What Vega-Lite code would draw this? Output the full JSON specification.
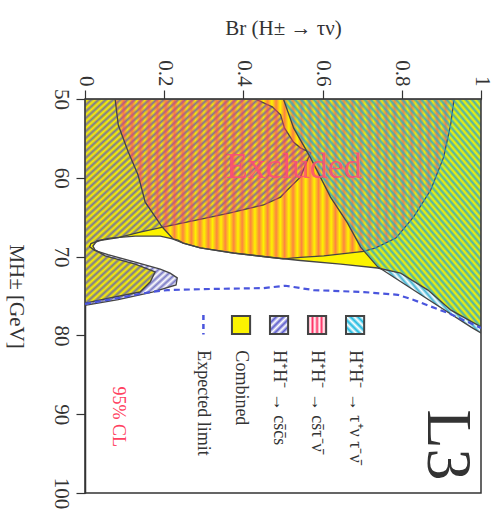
{
  "$schema": "https://vega.github.io/schema/vega-lite/v6.json",
  "width": 396,
  "height": 394,
  "autosize": "none",
  "padding": {"left": 85, "top": 99, "right": 14, "bottom": 18},
  "background": "#ffffff",
  "config": {"view": {"stroke": "#333333", "strokeWidth": 1.5}, "font": "Liberation Serif"},
  "datasets": {
    "combined": [{"br":0,"mass":50},{"br":0,"mass":75.9},{"br":0.063,"mass":75.25},{"br":0.139,"mass":74.5},{"br":0.165,"mass":73.2},{"br":0.177,"mass":71.95},{"br":0.127,"mass":70.95},{"br":0.051,"mass":69.9},{"br":0.025,"mass":69.15},{"br":0.02,"mass":68.65},{"br":0.03,"mass":68.0},{"br":0.063,"mass":67.65},{"br":0.127,"mass":67.4},{"br":0.19,"mass":67.4},{"br":0.235,"mass":67.9},{"br":0.248,"mass":68.3},{"br":0.291,"mass":68.9},{"br":0.375,"mass":69.55},{"br":0.461,"mass":70.05},{"br":0.544,"mass":70.5},{"br":0.646,"mass":70.95},{"br":0.739,"mass":71.45},{"br":0.797,"mass":72.1},{"br":0.866,"mass":74.25},{"br":0.924,"mass":76.8},{"br":0.992,"mass":78.7},{"br":1,"mass":78.95},{"br":1,"mass":50}],
    "cscs": [{"br":0,"mass":50},{"br":0.43,"mass":50},{"br":0.473,"mass":51.0},{"br":0.494,"mass":52.0},{"br":0.504,"mass":53.7},{"br":0.527,"mass":55.5},{"br":0.544,"mass":56.2},{"br":0.57,"mass":56.85},{"br":0.562,"mass":57.75},{"br":0.544,"mass":59.9},{"br":0.511,"mass":61.55},{"br":0.494,"mass":62.45},{"br":0.451,"mass":63.45},{"br":0.367,"mass":64.45},{"br":0.284,"mass":65.35},{"br":0.197,"mass":66.25},{"br":0.139,"mass":66.9},{"br":0.084,"mass":67.6},{"br":0.04,"mass":67.95},{"br":0.015,"mass":68.35},{"br":0.012,"mass":68.75},{"br":0.024,"mass":69.2},{"br":0.058,"mass":69.75},{"br":0.127,"mass":70.7},{"br":0.19,"mass":71.6},{"br":0.215,"mass":72.1},{"br":0.233,"mass":72.7},{"br":0.23,"mass":73.6},{"br":0.17,"mass":74.5},{"br":0.084,"mass":75.45},{"br":0,"mass":76.2}],
    "cstn": [{"br":0.076,"mass":50},{"br":0.932,"mass":50},{"br":0.924,"mass":53.05},{"br":0.906,"mass":57.35},{"br":0.873,"mass":61.55},{"br":0.83,"mass":64.95},{"br":0.785,"mass":67.65},{"br":0.734,"mass":68.9},{"br":0.704,"mass":69.35},{"br":0.603,"mass":69.9},{"br":0.544,"mass":70.1},{"br":0.5,"mass":70.3},{"br":0.461,"mass":70.05},{"br":0.375,"mass":69.55},{"br":0.291,"mass":68.9},{"br":0.248,"mass":68.3},{"br":0.223,"mass":67.8},{"br":0.195,"mass":66.25},{"br":0.152,"mass":63.1},{"br":0.134,"mass":59.65},{"br":0.109,"mass":56.7},{"br":0.084,"mass":53.3}],
    "tntn": [{"br":0.501,"mass":50},{"br":0.527,"mass":53.7},{"br":0.57,"mass":57.5},{"br":0.62,"mass":62.45},{"br":0.663,"mass":65.75},{"br":0.696,"mass":68.8},{"br":0.739,"mass":71.3},{"br":0.747,"mass":71.55},{"br":0.856,"mass":75.1},{"br":0.975,"mass":78.95},{"br":1,"mass":79.7},{"br":1,"mass":50}],
    "expected": [{"br":0,"mass":76.0},{"br":0.084,"mass":75.25},{"br":0.165,"mass":74.5},{"br":0.208,"mass":74.25},{"br":0.324,"mass":74.1},{"br":0.451,"mass":74.0},{"br":0.506,"mass":73.7},{"br":0.577,"mass":74.25},{"br":0.704,"mass":74.5},{"br":0.79,"mass":74.85},{"br":0.83,"mass":75.5},{"br":0.916,"mass":77.15},{"br":1,"mass":79.05}],
    "legend": [{"entry":"expected","br":0.299,"label":"Expected limit"},{"entry":"combined","br":0.394,"label":"Combined"},{"entry":"cscs","br":0.49,"label":"H⁺H⁻ → cs̄c̄s"},{"entry":"cstn","br":0.586,"label":"H⁺H⁻ → cs̄τ⁻ν̄"},{"entry":"tntn","br":0.682,"label":"H⁺H⁻ → τ⁺ν τ⁻ν̄"}]
  },
  "layer": [
    {
      "data": {"name": "combined"},
      "mark": {"type": "line", "interpolate": "linear-closed", "fill": "#fcf300", "stroke": null, "clip": true},
      "encoding": {
        "x": {"field": "br", "type": "quantitative", "scale": {"domain": [0, 1], "nice": false, "zero": false},
          "axis": {"orient": "top", "title": "Br (H± → τν)", "values": [0,0.1,0.2,0.3,0.4,0.5,0.6,0.7,0.8,0.9,1],
            "labelExpr": "datum.value == 0 ? '0' : datum.value == 1 ? '1' : (round(datum.value * 10) % 2 == 0 ? format(datum.value, '.1f') : '')",
            "labelAngle": 90, "labelFontSize": 21, "labelFont": "Liberation Serif", "labelColor": "#333333",
            "tickSize": 9, "tickColor": "#333333", "tickWidth": 1.2, "domainColor": "#333333", "domainWidth": 1.5, "labelPadding": 4,
            "titleFont": "Liberation Serif", "titleFontSize": 21, "titleFontWeight": "normal", "titleColor": "#333333", "titlePadding": 21,
            "grid": false, "labelFlush": false, "labelOverlap": false}},
        "y": {"field": "mass", "type": "quantitative", "scale": {"domain": [50, 100], "reverse": true, "nice": false, "zero": false},
          "axis": {"orient": "left", "title": "MH±  [GeV]", "values": [50,55,60,65,70,75,80,85,90,95,100],
            "labelExpr": "datum.value % 10 == 0 ? datum.label : ''",
            "labelAngle": 90, "labelFontSize": 21, "labelFont": "Liberation Serif", "labelColor": "#333333",
            "tickSize": 9, "tickColor": "#333333", "tickWidth": 1.2, "domainColor": "#333333", "domainWidth": 1.5, "labelPadding": 5,
            "titleFont": "Liberation Serif", "titleFontSize": 21, "titleFontWeight": "normal", "titleColor": "#333333",
            "titleAngle": 90, "titleBaseline": "top", "titlePadding": 24,
            "grid": false, "labelFlush": false, "labelOverlap": false}},
        "order": {"value": null}
      }
    },
    {
      "data": {"name": "cscs"},
      "mark": {"type": "line", "interpolate": "linear-closed", "stroke": "#444444", "strokeWidth": 1.3, "clip": true,
        "fill": {"gradient": "linear", "x1": 0, "y1": 0, "x2": 1, "y2": 1, "stops": [
{"offset":0,"color":"#5a5ab8d0"},{"offset":0.008,"color":"#5a5ab800"},{"offset":0.016,"color":"#5a5ab8d0"},{"offset":0.024,"color":"#5a5ab800"},{"offset":0.032,"color":"#5a5ab8d0"},{"offset":0.04,"color":"#5a5ab800"},{"offset":0.048,"color":"#5a5ab8d0"},{"offset":0.056,"color":"#5a5ab800"},{"offset":0.064,"color":"#5a5ab8d0"},{"offset":0.072,"color":"#5a5ab800"},
{"offset":0.08,"color":"#5a5ab8d0"},{"offset":0.088,"color":"#5a5ab800"},{"offset":0.096,"color":"#5a5ab8d0"},{"offset":0.104,"color":"#5a5ab800"},{"offset":0.112,"color":"#5a5ab8d0"},{"offset":0.12,"color":"#5a5ab800"},{"offset":0.128,"color":"#5a5ab8d0"},{"offset":0.136,"color":"#5a5ab800"},{"offset":0.144,"color":"#5a5ab8d0"},{"offset":0.152,"color":"#5a5ab800"},
{"offset":0.16,"color":"#5a5ab8d0"},{"offset":0.168,"color":"#5a5ab800"},{"offset":0.176,"color":"#5a5ab8d0"},{"offset":0.184,"color":"#5a5ab800"},{"offset":0.192,"color":"#5a5ab8d0"},{"offset":0.2,"color":"#5a5ab800"},{"offset":0.208,"color":"#5a5ab8d0"},{"offset":0.216,"color":"#5a5ab800"},{"offset":0.224,"color":"#5a5ab8d0"},{"offset":0.232,"color":"#5a5ab800"},
{"offset":0.24,"color":"#5a5ab8d0"},{"offset":0.248,"color":"#5a5ab800"},{"offset":0.256,"color":"#5a5ab8d0"},{"offset":0.264,"color":"#5a5ab800"},{"offset":0.272,"color":"#5a5ab8d0"},{"offset":0.28,"color":"#5a5ab800"},{"offset":0.288,"color":"#5a5ab8d0"},{"offset":0.296,"color":"#5a5ab800"},{"offset":0.304,"color":"#5a5ab8d0"},{"offset":0.312,"color":"#5a5ab800"},
{"offset":0.32,"color":"#5a5ab8d0"},{"offset":0.328,"color":"#5a5ab800"},{"offset":0.336,"color":"#5a5ab8d0"},{"offset":0.344,"color":"#5a5ab800"},{"offset":0.352,"color":"#5a5ab8d0"},{"offset":0.36,"color":"#5a5ab800"},{"offset":0.368,"color":"#5a5ab8d0"},{"offset":0.376,"color":"#5a5ab800"},{"offset":0.384,"color":"#5a5ab8d0"},{"offset":0.392,"color":"#5a5ab800"},
{"offset":0.4,"color":"#5a5ab8d0"},{"offset":0.408,"color":"#5a5ab800"},{"offset":0.416,"color":"#5a5ab8d0"},{"offset":0.424,"color":"#5a5ab800"},{"offset":0.432,"color":"#5a5ab8d0"},{"offset":0.44,"color":"#5a5ab800"},{"offset":0.448,"color":"#5a5ab8d0"},{"offset":0.456,"color":"#5a5ab800"},{"offset":0.464,"color":"#5a5ab8d0"},{"offset":0.472,"color":"#5a5ab800"},
{"offset":0.48,"color":"#5a5ab8d0"},{"offset":0.488,"color":"#5a5ab800"},{"offset":0.496,"color":"#5a5ab8d0"},{"offset":0.504,"color":"#5a5ab800"},{"offset":0.512,"color":"#5a5ab8d0"},{"offset":0.52,"color":"#5a5ab800"},{"offset":0.528,"color":"#5a5ab8d0"},{"offset":0.536,"color":"#5a5ab800"},{"offset":0.544,"color":"#5a5ab8d0"},{"offset":0.552,"color":"#5a5ab800"},
{"offset":0.56,"color":"#5a5ab8d0"},{"offset":0.568,"color":"#5a5ab800"},{"offset":0.576,"color":"#5a5ab8d0"},{"offset":0.584,"color":"#5a5ab800"},{"offset":0.592,"color":"#5a5ab8d0"},{"offset":0.6,"color":"#5a5ab800"},{"offset":0.608,"color":"#5a5ab8d0"},{"offset":0.616,"color":"#5a5ab800"},{"offset":0.624,"color":"#5a5ab8d0"},{"offset":0.632,"color":"#5a5ab800"},
{"offset":0.64,"color":"#5a5ab8d0"},{"offset":0.648,"color":"#5a5ab800"},{"offset":0.656,"color":"#5a5ab8d0"},{"offset":0.664,"color":"#5a5ab800"},{"offset":0.672,"color":"#5a5ab8d0"},{"offset":0.68,"color":"#5a5ab800"},{"offset":0.688,"color":"#5a5ab8d0"},{"offset":0.696,"color":"#5a5ab800"},{"offset":0.704,"color":"#5a5ab8d0"},{"offset":0.712,"color":"#5a5ab800"},
{"offset":0.72,"color":"#5a5ab8d0"},{"offset":0.728,"color":"#5a5ab800"},{"offset":0.736,"color":"#5a5ab8d0"},{"offset":0.744,"color":"#5a5ab800"},{"offset":0.752,"color":"#5a5ab8d0"},{"offset":0.76,"color":"#5a5ab800"},{"offset":0.768,"color":"#5a5ab8d0"},{"offset":0.776,"color":"#5a5ab800"},{"offset":0.784,"color":"#5a5ab8d0"},{"offset":0.792,"color":"#5a5ab800"},
{"offset":0.8,"color":"#5a5ab8d0"},{"offset":0.808,"color":"#5a5ab800"},{"offset":0.816,"color":"#5a5ab8d0"},{"offset":0.824,"color":"#5a5ab800"},{"offset":0.832,"color":"#5a5ab8d0"},{"offset":0.84,"color":"#5a5ab800"},{"offset":0.848,"color":"#5a5ab8d0"},{"offset":0.856,"color":"#5a5ab800"},{"offset":0.864,"color":"#5a5ab8d0"},{"offset":0.872,"color":"#5a5ab800"},
{"offset":0.88,"color":"#5a5ab8d0"},{"offset":0.888,"color":"#5a5ab800"},{"offset":0.896,"color":"#5a5ab8d0"},{"offset":0.904,"color":"#5a5ab800"},{"offset":0.912,"color":"#5a5ab8d0"},{"offset":0.92,"color":"#5a5ab800"},{"offset":0.928,"color":"#5a5ab8d0"},{"offset":0.936,"color":"#5a5ab800"},{"offset":0.944,"color":"#5a5ab8d0"},{"offset":0.952,"color":"#5a5ab800"},
{"offset":0.96,"color":"#5a5ab8d0"},{"offset":0.968,"color":"#5a5ab800"},{"offset":0.976,"color":"#5a5ab8d0"},{"offset":0.984,"color":"#5a5ab800"},{"offset":0.992,"color":"#5a5ab8d0"},{"offset":1,"color":"#5a5ab800"}
        ]}},
      "encoding": {"x": {"field": "br", "type": "quantitative"}, "y": {"field": "mass", "type": "quantitative"}, "order": {"value": null}}
    },
    {
      "data": {"name": "cstn"},
      "mark": {"type": "line", "interpolate": "linear-closed", "stroke": "#444444", "strokeWidth": 1.3, "clip": true,
        "fill": {"gradient": "linear", "x1": 0, "y1": 0, "x2": 1, "y2": 0, "stops": [
{"offset":0,"color":"#ff3a6a9a"},{"offset":0.0125,"color":"#ff3a6a00"},{"offset":0.025,"color":"#ff3a6a9a"},{"offset":0.0375,"color":"#ff3a6a00"},{"offset":0.05,"color":"#ff3a6a9a"},{"offset":0.0625,"color":"#ff3a6a00"},{"offset":0.075,"color":"#ff3a6a9a"},{"offset":0.0875,"color":"#ff3a6a00"},
{"offset":0.1,"color":"#ff3a6a9a"},{"offset":0.1125,"color":"#ff3a6a00"},{"offset":0.125,"color":"#ff3a6a9a"},{"offset":0.1375,"color":"#ff3a6a00"},{"offset":0.15,"color":"#ff3a6a9a"},{"offset":0.1625,"color":"#ff3a6a00"},{"offset":0.175,"color":"#ff3a6a9a"},{"offset":0.1875,"color":"#ff3a6a00"},
{"offset":0.2,"color":"#ff3a6a9a"},{"offset":0.2125,"color":"#ff3a6a00"},{"offset":0.225,"color":"#ff3a6a9a"},{"offset":0.2375,"color":"#ff3a6a00"},{"offset":0.25,"color":"#ff3a6a9a"},{"offset":0.2625,"color":"#ff3a6a00"},{"offset":0.275,"color":"#ff3a6a9a"},{"offset":0.2875,"color":"#ff3a6a00"},
{"offset":0.3,"color":"#ff3a6a9a"},{"offset":0.3125,"color":"#ff3a6a00"},{"offset":0.325,"color":"#ff3a6a9a"},{"offset":0.3375,"color":"#ff3a6a00"},{"offset":0.35,"color":"#ff3a6a9a"},{"offset":0.3625,"color":"#ff3a6a00"},{"offset":0.375,"color":"#ff3a6a9a"},{"offset":0.3875,"color":"#ff3a6a00"},
{"offset":0.4,"color":"#ff3a6a9a"},{"offset":0.4125,"color":"#ff3a6a00"},{"offset":0.425,"color":"#ff3a6a9a"},{"offset":0.4375,"color":"#ff3a6a00"},{"offset":0.45,"color":"#ff3a6a9a"},{"offset":0.4625,"color":"#ff3a6a00"},{"offset":0.475,"color":"#ff3a6a9a"},{"offset":0.4875,"color":"#ff3a6a00"},
{"offset":0.5,"color":"#ff3a6a9a"},{"offset":0.5125,"color":"#ff3a6a00"},{"offset":0.525,"color":"#ff3a6a9a"},{"offset":0.5375,"color":"#ff3a6a00"},{"offset":0.55,"color":"#ff3a6a9a"},{"offset":0.5625,"color":"#ff3a6a00"},{"offset":0.575,"color":"#ff3a6a9a"},{"offset":0.5875,"color":"#ff3a6a00"},
{"offset":0.6,"color":"#ff3a6a9a"},{"offset":0.6125,"color":"#ff3a6a00"},{"offset":0.625,"color":"#ff3a6a9a"},{"offset":0.6375,"color":"#ff3a6a00"},{"offset":0.65,"color":"#ff3a6a9a"},{"offset":0.6625,"color":"#ff3a6a00"},{"offset":0.675,"color":"#ff3a6a9a"},{"offset":0.6875,"color":"#ff3a6a00"},
{"offset":0.7,"color":"#ff3a6a9a"},{"offset":0.7125,"color":"#ff3a6a00"},{"offset":0.725,"color":"#ff3a6a9a"},{"offset":0.7375,"color":"#ff3a6a00"},{"offset":0.75,"color":"#ff3a6a9a"},{"offset":0.7625,"color":"#ff3a6a00"},{"offset":0.775,"color":"#ff3a6a9a"},{"offset":0.7875,"color":"#ff3a6a00"},
{"offset":0.8,"color":"#ff3a6a9a"},{"offset":0.8125,"color":"#ff3a6a00"},{"offset":0.825,"color":"#ff3a6a9a"},{"offset":0.8375,"color":"#ff3a6a00"},{"offset":0.85,"color":"#ff3a6a9a"},{"offset":0.8625,"color":"#ff3a6a00"},{"offset":0.875,"color":"#ff3a6a9a"},{"offset":0.8875,"color":"#ff3a6a00"},
{"offset":0.9,"color":"#ff3a6a9a"},{"offset":0.9125,"color":"#ff3a6a00"},{"offset":0.925,"color":"#ff3a6a9a"},{"offset":0.9375,"color":"#ff3a6a00"},{"offset":0.95,"color":"#ff3a6a9a"},{"offset":0.9625,"color":"#ff3a6a00"},{"offset":0.975,"color":"#ff3a6a9a"},{"offset":0.9875,"color":"#ff3a6a00"},{"offset":1,"color":"#ff3a6a9a"}
        ]}},
      "encoding": {"x": {"field": "br", "type": "quantitative"}, "y": {"field": "mass", "type": "quantitative"}, "order": {"value": null}}
    },
    {
      "data": {"name": "tntn"},
      "mark": {"type": "line", "interpolate": "linear-closed", "stroke": "#444444", "strokeWidth": 1.3, "clip": true,
        "fill": {"gradient": "linear", "x1": 0, "y1": 1, "x2": 1, "y2": 0, "stops": [
{"offset":0,"color":"#28a8cce0"},{"offset":0.008,"color":"#28a8cc00"},{"offset":0.016,"color":"#28a8cce0"},{"offset":0.024,"color":"#28a8cc00"},{"offset":0.032,"color":"#28a8cce0"},{"offset":0.04,"color":"#28a8cc00"},{"offset":0.048,"color":"#28a8cce0"},{"offset":0.056,"color":"#28a8cc00"},{"offset":0.064,"color":"#28a8cce0"},{"offset":0.072,"color":"#28a8cc00"},
{"offset":0.08,"color":"#28a8cce0"},{"offset":0.088,"color":"#28a8cc00"},{"offset":0.096,"color":"#28a8cce0"},{"offset":0.104,"color":"#28a8cc00"},{"offset":0.112,"color":"#28a8cce0"},{"offset":0.12,"color":"#28a8cc00"},{"offset":0.128,"color":"#28a8cce0"},{"offset":0.136,"color":"#28a8cc00"},{"offset":0.144,"color":"#28a8cce0"},{"offset":0.152,"color":"#28a8cc00"},
{"offset":0.16,"color":"#28a8cce0"},{"offset":0.168,"color":"#28a8cc00"},{"offset":0.176,"color":"#28a8cce0"},{"offset":0.184,"color":"#28a8cc00"},{"offset":0.192,"color":"#28a8cce0"},{"offset":0.2,"color":"#28a8cc00"},{"offset":0.208,"color":"#28a8cce0"},{"offset":0.216,"color":"#28a8cc00"},{"offset":0.224,"color":"#28a8cce0"},{"offset":0.232,"color":"#28a8cc00"},
{"offset":0.24,"color":"#28a8cce0"},{"offset":0.248,"color":"#28a8cc00"},{"offset":0.256,"color":"#28a8cce0"},{"offset":0.264,"color":"#28a8cc00"},{"offset":0.272,"color":"#28a8cce0"},{"offset":0.28,"color":"#28a8cc00"},{"offset":0.288,"color":"#28a8cce0"},{"offset":0.296,"color":"#28a8cc00"},{"offset":0.304,"color":"#28a8cce0"},{"offset":0.312,"color":"#28a8cc00"},
{"offset":0.32,"color":"#28a8cce0"},{"offset":0.328,"color":"#28a8cc00"},{"offset":0.336,"color":"#28a8cce0"},{"offset":0.344,"color":"#28a8cc00"},{"offset":0.352,"color":"#28a8cce0"},{"offset":0.36,"color":"#28a8cc00"},{"offset":0.368,"color":"#28a8cce0"},{"offset":0.376,"color":"#28a8cc00"},{"offset":0.384,"color":"#28a8cce0"},{"offset":0.392,"color":"#28a8cc00"},
{"offset":0.4,"color":"#28a8cce0"},{"offset":0.408,"color":"#28a8cc00"},{"offset":0.416,"color":"#28a8cce0"},{"offset":0.424,"color":"#28a8cc00"},{"offset":0.432,"color":"#28a8cce0"},{"offset":0.44,"color":"#28a8cc00"},{"offset":0.448,"color":"#28a8cce0"},{"offset":0.456,"color":"#28a8cc00"},{"offset":0.464,"color":"#28a8cce0"},{"offset":0.472,"color":"#28a8cc00"},
{"offset":0.48,"color":"#28a8cce0"},{"offset":0.488,"color":"#28a8cc00"},{"offset":0.496,"color":"#28a8cce0"},{"offset":0.504,"color":"#28a8cc00"},{"offset":0.512,"color":"#28a8cce0"},{"offset":0.52,"color":"#28a8cc00"},{"offset":0.528,"color":"#28a8cce0"},{"offset":0.536,"color":"#28a8cc00"},{"offset":0.544,"color":"#28a8cce0"},{"offset":0.552,"color":"#28a8cc00"},
{"offset":0.56,"color":"#28a8cce0"},{"offset":0.568,"color":"#28a8cc00"},{"offset":0.576,"color":"#28a8cce0"},{"offset":0.584,"color":"#28a8cc00"},{"offset":0.592,"color":"#28a8cce0"},{"offset":0.6,"color":"#28a8cc00"},{"offset":0.608,"color":"#28a8cce0"},{"offset":0.616,"color":"#28a8cc00"},{"offset":0.624,"color":"#28a8cce0"},{"offset":0.632,"color":"#28a8cc00"},
{"offset":0.64,"color":"#28a8cce0"},{"offset":0.648,"color":"#28a8cc00"},{"offset":0.656,"color":"#28a8cce0"},{"offset":0.664,"color":"#28a8cc00"},{"offset":0.672,"color":"#28a8cce0"},{"offset":0.68,"color":"#28a8cc00"},{"offset":0.688,"color":"#28a8cce0"},{"offset":0.696,"color":"#28a8cc00"},{"offset":0.704,"color":"#28a8cce0"},{"offset":0.712,"color":"#28a8cc00"},
{"offset":0.72,"color":"#28a8cce0"},{"offset":0.728,"color":"#28a8cc00"},{"offset":0.736,"color":"#28a8cce0"},{"offset":0.744,"color":"#28a8cc00"},{"offset":0.752,"color":"#28a8cce0"},{"offset":0.76,"color":"#28a8cc00"},{"offset":0.768,"color":"#28a8cce0"},{"offset":0.776,"color":"#28a8cc00"},{"offset":0.784,"color":"#28a8cce0"},{"offset":0.792,"color":"#28a8cc00"},
{"offset":0.8,"color":"#28a8cce0"},{"offset":0.808,"color":"#28a8cc00"},{"offset":0.816,"color":"#28a8cce0"},{"offset":0.824,"color":"#28a8cc00"},{"offset":0.832,"color":"#28a8cce0"},{"offset":0.84,"color":"#28a8cc00"},{"offset":0.848,"color":"#28a8cce0"},{"offset":0.856,"color":"#28a8cc00"},{"offset":0.864,"color":"#28a8cce0"},{"offset":0.872,"color":"#28a8cc00"},
{"offset":0.88,"color":"#28a8cce0"},{"offset":0.888,"color":"#28a8cc00"},{"offset":0.896,"color":"#28a8cce0"},{"offset":0.904,"color":"#28a8cc00"},{"offset":0.912,"color":"#28a8cce0"},{"offset":0.92,"color":"#28a8cc00"},{"offset":0.928,"color":"#28a8cce0"},{"offset":0.936,"color":"#28a8cc00"},{"offset":0.944,"color":"#28a8cce0"},{"offset":0.952,"color":"#28a8cc00"},
{"offset":0.96,"color":"#28a8cce0"},{"offset":0.968,"color":"#28a8cc00"},{"offset":0.976,"color":"#28a8cce0"},{"offset":0.984,"color":"#28a8cc00"},{"offset":0.992,"color":"#28a8cce0"},{"offset":1,"color":"#28a8cc00"}
        ]}},
      "encoding": {"x": {"field": "br", "type": "quantitative"}, "y": {"field": "mass", "type": "quantitative"}, "order": {"value": null}}
    },
    {
      "data": {"name": "combined"},
      "mark": {"type": "line", "interpolate": "linear-closed", "stroke": "#444444", "strokeWidth": 1.4, "clip": true},
      "encoding": {"x": {"field": "br", "type": "quantitative"}, "y": {"field": "mass", "type": "quantitative"}, "order": {"value": null}}
    },
    {
      "data": {"name": "expected"},
      "mark": {"type": "line", "stroke": "#4a55dd", "strokeWidth": 2.2, "strokeDash": [6, 4], "clip": true},
      "encoding": {"x": {"field": "br", "type": "quantitative"}, "y": {"field": "mass", "type": "quantitative"}, "order": {"value": null}}
    },
    {
      "data": {"name": "legend"},
      "transform": [{"filter": "datum.entry == 'expected'"}],
      "mark": {"type": "rule", "stroke": "#4a55dd", "strokeWidth": 2.5, "strokeDash": [5, 4]},
      "encoding": {"x": {"field": "br", "type": "quantitative"}, "y": {"datum": 77.4}, "y2": {"datum": 79.9}}
    },
    {
      "data": {"name": "legend"},
      "transform": [{"filter": "datum.entry == 'combined'"}],
      "mark": {"type": "square", "size": 330, "fill": "#fcf300", "stroke": "#444444", "strokeWidth": 2, "opacity": 1},
      "encoding": {"x": {"field": "br", "type": "quantitative"}, "y": {"datum": 78.68}}
    },
    {
      "data": {"name": "legend"},
      "transform": [{"filter": "datum.entry == 'cscs'"}],
      "mark": {"type": "square", "size": 330, "stroke": "#444444", "strokeWidth": 2, "opacity": 1,
        "fill": {"gradient": "linear", "x1": 0, "y1": 0, "x2": 1, "y2": 1, "stops": [
          {"offset":0,"color":"#5a5acc"},{"offset":0.1,"color":"#5a5acc00"},{"offset":0.2,"color":"#5a5acc"},{"offset":0.3,"color":"#5a5acc00"},{"offset":0.4,"color":"#5a5acc"},{"offset":0.5,"color":"#5a5acc00"},{"offset":0.6,"color":"#5a5acc"},{"offset":0.7,"color":"#5a5acc00"},{"offset":0.8,"color":"#5a5acc"},{"offset":0.9,"color":"#5a5acc00"},{"offset":1,"color":"#5a5acc"}]}},
      "encoding": {"x": {"field": "br", "type": "quantitative"}, "y": {"datum": 78.68}}
    },
    {
      "data": {"name": "legend"},
      "transform": [{"filter": "datum.entry == 'cstn'"}],
      "mark": {"type": "square", "size": 330, "stroke": "#444444", "strokeWidth": 2, "opacity": 1,
        "fill": {"gradient": "linear", "x1": 0, "y1": 0, "x2": 1, "y2": 0, "stops": [
          {"offset":0,"color":"#ff3366"},{"offset":0.125,"color":"#ff336600"},{"offset":0.25,"color":"#ff3366"},{"offset":0.375,"color":"#ff336600"},{"offset":0.5,"color":"#ff3366"},{"offset":0.625,"color":"#ff336600"},{"offset":0.75,"color":"#ff3366"},{"offset":0.875,"color":"#ff336600"},{"offset":1,"color":"#ff3366"}]}},
      "encoding": {"x": {"field": "br", "type": "quantitative"}, "y": {"datum": 78.68}}
    },
    {
      "data": {"name": "legend"},
      "transform": [{"filter": "datum.entry == 'tntn'"}],
      "mark": {"type": "square", "size": 330, "stroke": "#444444", "strokeWidth": 2, "opacity": 1,
        "fill": {"gradient": "linear", "x1": 0, "y1": 1, "x2": 1, "y2": 0, "stops": [
          {"offset":0,"color":"#18b8e0"},{"offset":0.1,"color":"#18b8e000"},{"offset":0.2,"color":"#18b8e0"},{"offset":0.3,"color":"#18b8e000"},{"offset":0.4,"color":"#18b8e0"},{"offset":0.5,"color":"#18b8e000"},{"offset":0.6,"color":"#18b8e0"},{"offset":0.7,"color":"#18b8e000"},{"offset":0.8,"color":"#18b8e0"},{"offset":0.9,"color":"#18b8e000"},{"offset":1,"color":"#18b8e0"}]}},
      "encoding": {"x": {"field": "br", "type": "quantitative"}, "y": {"datum": 78.68}}
    },
    {
      "data": {"name": "legend"},
      "mark": {"type": "text", "angle": 90, "align": "left", "baseline": "middle", "fontSize": 18, "font": "Liberation Serif", "color": "#333333"},
      "encoding": {"x": {"field": "br", "type": "quantitative"}, "y": {"datum": 81.9}, "text": {"field": "label"}}
    },
    {
      "data": {"values": [{"label": "Excluded", "br": 0.527, "mass": 60.0}]},
      "mark": {"type": "text", "align": "center", "baseline": "alphabetic", "fontSize": 36, "font": "Liberation Serif", "color": "#ff4a78", "opacity": 0.85},
      "encoding": {"x": {"field": "br", "type": "quantitative"}, "y": {"field": "mass", "type": "quantitative"}, "text": {"field": "label"}}
    },
    {
      "data": {"values": [{"label": "95% CL", "br": 0.084, "mass": 86.5}]},
      "mark": {"type": "text", "angle": 90, "align": "left", "baseline": "middle", "fontSize": 18, "font": "Liberation Serif", "color": "#ff4060"},
      "encoding": {"x": {"field": "br", "type": "quantitative"}, "y": {"field": "mass", "type": "quantitative"}, "text": {"field": "label"}}
    },
    {
      "data": {"values": [{"label": "L3", "br": 0.915, "mass": 89.4}]},
      "mark": {"type": "text", "angle": 90, "align": "left", "baseline": "middle", "fontSize": 64, "font": "Liberation Serif", "color": "#333333"},
      "encoding": {"x": {"field": "br", "type": "quantitative"}, "y": {"field": "mass", "type": "quantitative"}, "text": {"field": "label"}}
    }
  ]
}
